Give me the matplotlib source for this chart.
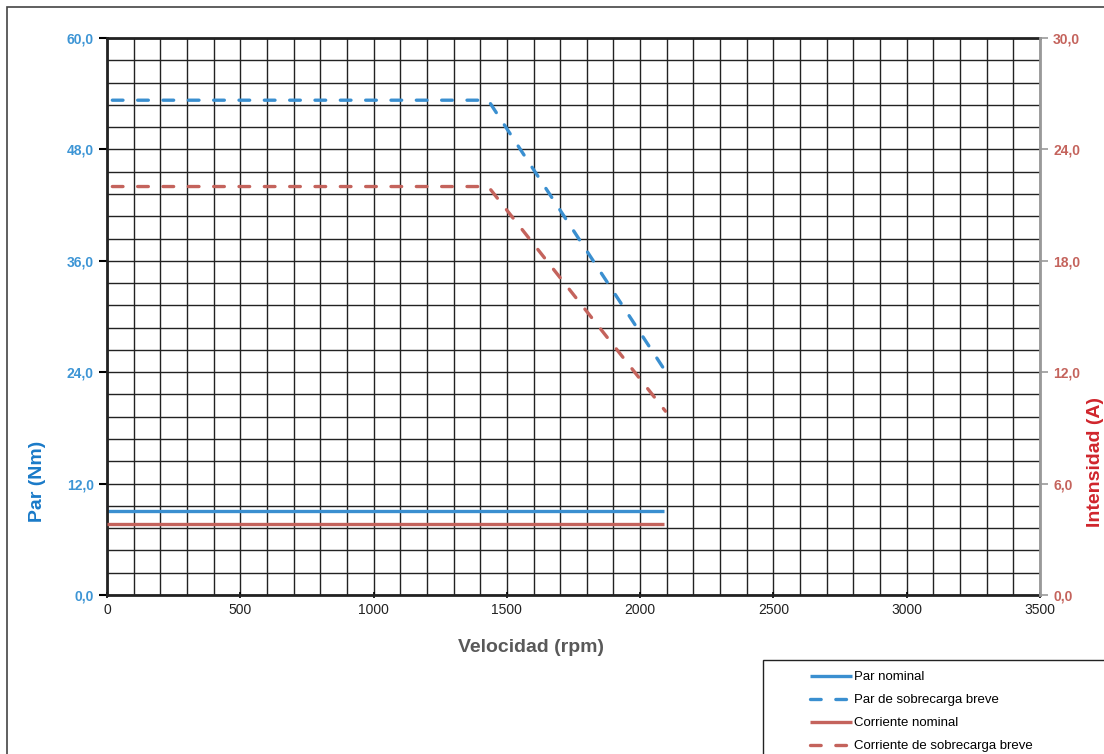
import matplotlib
matplotlib.use("Agg")
import matplotlib.pyplot as plt
from matplotlib.ticker import MultipleLocator, FuncFormatter
from matplotlib.patches import Rectangle

plt.rcParams['font.family'] = ['Liberation Sans', 'DejaVu Sans']

# datos
vel_nominal = [0, 2090]
par_nominal = [9.0, 9.0]
corriente_nominal = [3.8, 3.8]

vel_sobrecarga = [20, 1430, 2095]
par_sobrecarga = [53.3, 53.3, 24.1]
corriente_sobrecarga = [22.0, 22.0, 9.9]

azul = '#3a8fd0'
rojo = '#c4635c'

fig = plt.figure(figsize=(11.04, 7.54), dpi=100)
ax = fig.add_axes([107/1104, 1-595/754, (1040-107)/1104, (595-38)/754])
ax2 = ax.twinx()

# rejilla
ax.set_xlim(0, 3500)
ax.set_ylim(0, 60)
ax2.set_ylim(0, 30)
ax.xaxis.set_major_locator(MultipleLocator(500))
ax.xaxis.set_minor_locator(MultipleLocator(100))
ax.yaxis.set_major_locator(MultipleLocator(12))
ax.yaxis.set_minor_locator(MultipleLocator(2.4))
ax2.yaxis.set_major_locator(MultipleLocator(6))
ax.grid(True, which='both', color='#222222', linewidth=1.0)
ax.set_axisbelow(True)

ax.plot(vel_nominal, par_nominal, color=azul, lw=2.4, label='Par nominal', solid_capstyle='butt')
ax.plot(vel_sobrecarga, par_sobrecarga, color=azul, lw=2.4, dashes=(3.2, 4.4),
        dash_capstyle='round', label='Par de sobrecarga breve')
ax2.plot(vel_nominal, corriente_nominal, color=rojo, lw=2.4, label='Corriente nominal', solid_capstyle='butt')
ax2.plot(vel_sobrecarga, corriente_sobrecarga, color=rojo, lw=2.4, dashes=(3.2, 4.4),
         dash_capstyle='round', label='Corriente de sobrecarga breve')

fmt = FuncFormatter(lambda v, p: f'{v:.1f}'.replace('.', ','))
ax.yaxis.set_major_formatter(fmt)
ax2.yaxis.set_major_formatter(fmt)

ax.tick_params(axis='y', which='major', labelsize=10, labelcolor='#3d95d5', length=6, width=1.5, direction='out')
ax.tick_params(axis='y', which='minor', length=0)
ax.tick_params(axis='x', which='major', labelsize=10, labelcolor='#222222', length=5, width=1.2, direction='inout')
ax.tick_params(axis='x', which='minor', length=0)
ax2.tick_params(axis='y', labelsize=10, labelcolor='#c4635c', length=6, width=1.2, color='#999999')
for lab in ax.get_yticklabels() + ax2.get_yticklabels():
    lab.set_fontweight('bold')

for s in ['left', 'bottom', 'top']:
    ax.spines[s].set_linewidth(2)
    ax.spines[s].set_color('#222222')
ax2.spines['right'].set_color('#999999')
ax2.spines['right'].set_linewidth(2)
ax2.spines['left'].set_visible(False)
ax2.spines['top'].set_visible(False)
ax2.spines['bottom'].set_visible(False)

# etiquetas de ejes
fig.text(531/1104, 1-648/754, 'Velocidad (rpm)', ha='center', va='center',
         fontsize=14, fontweight='bold', color='#595959')
fig.text(38/1104, 1-481/754, 'Par (Nm)', ha='center', va='center', rotation=90,
         fontsize=14, fontweight='bold', color='#1a7ac8')
fig.text(1095/1104, 1-462/754, 'Intensidad (A)', ha='center', va='center', rotation=90,
         fontsize=14, fontweight='bold', color='#d0252c')

# marco de la figura y de la leyenda
fig.patches.append(Rectangle((7/1104, -0.1), 1.2, 1-7/754+0.1, transform=fig.transFigure,
                             fill=False, edgecolor='#444444', linewidth=1.2))
fig.patches.append(Rectangle((763/1104, -0.1), 0.5, 0.1+1-660/754, transform=fig.transFigure,
                             fill=False, edgecolor='#222222', linewidth=1.0))

h1, l1 = ax.get_legend_handles_labels()
h2, l2 = ax2.get_legend_handles_labels()
fig.legend(h1 + h2, l1 + l2, loc='upper left', bbox_to_anchor=(810/1104, 1-671/754),
           frameon=False, fontsize=9.5, handlelength=3.2, handletextpad=0.1,
           labelspacing=0.82, borderpad=0, borderaxespad=0)

fig.savefig('out.png', dpi=100)
